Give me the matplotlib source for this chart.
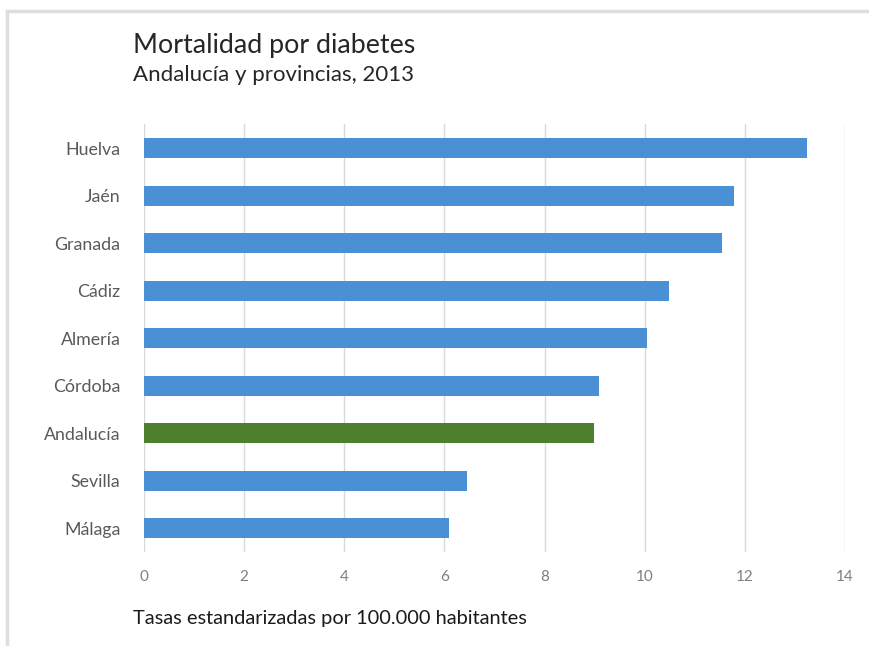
import matplotlib
matplotlib.use("Agg")
from matplotlib import pyplot as plt
from matplotlib.lines import Line2D

# data
provincias = ["Huelva", "Jaén", "Granada", "Cádiz", "Almería",
              "Córdoba", "Andalucía", "Sevilla", "Málaga"]
tasas = [13.25, 11.78, 11.54, 10.48, 10.04, 9.08, 8.98, 6.45, 6.09]
x_ticks = [0, 2, 4, 6, 8, 10, 12, 14]

azul = "#4A90D5"
verde = "#4E7F2C"
colores = [verde if p == "Andalucía" else azul for p in provincias]

plt.rcParams["font.family"] = ["Lato", "DejaVu Sans"]

fig = plt.figure(figsize=(8.7, 6.46), dpi=100)
ax = fig.add_axes([0.1655, 0.1455, 0.8057, 0.6618])

pos = list(range(len(provincias)))
ax.barh(pos, tasas, height=0.42, color=colores, zorder=3)

ax.set_xlim(0, 14)
ax.set_ylim(len(provincias) - 0.5, -0.5)
ax.set_xticks(x_ticks)
ax.set_xticklabels([str(t) for t in x_ticks])
ax.set_yticks(pos)
ax.set_yticklabels(provincias)

ax.grid(axis="x", color="#D9D9D9", linewidth=1, zorder=0)
for s in ax.spines.values():
    s.set_visible(False)
ax.tick_params(axis="x", length=0, pad=13, labelsize=11, labelcolor="#7F7F7F")
ax.tick_params(axis="y", length=0, pad=17, labelsize=12.8, labelcolor="#595959")

fig.text(0.153, 0.930, "Mortalidad por diabetes", fontsize=19.3,
         color="#262626", va="center", ha="left")
fig.text(0.153, 0.884, "Andalucía y provincias, 2013", fontsize=16,
         color="#262626", va="center", ha="left")
fig.text(0.153, 0.043, "Tasas estandarizadas por 100.000 habitantes",
         fontsize=14.4, color="#1A1A1A", va="center", ha="left")

# light frame at the top and left, as in the screenshot
fig.add_artist(Line2D([0.008, 1.0], [0.983, 0.983], color="#DEDEDE", linewidth=2.5))
fig.add_artist(Line2D([0.008, 0.008], [0.0, 0.983], color="#DEDEDE", linewidth=2.5))

fig.savefig("out.png", dpi=100)
